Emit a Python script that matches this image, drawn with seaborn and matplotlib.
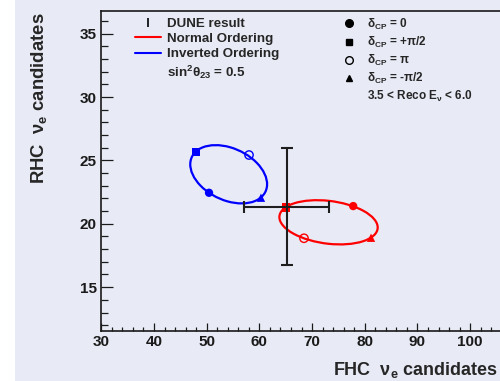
import matplotlib
matplotlib.use("Agg")
import matplotlib.pyplot as plt
from matplotlib.patches import Ellipse, Rectangle
from matplotlib.lines import Line2D
from matplotlib.container import ErrorbarContainer
from matplotlib.legend_handler import HandlerErrorbar
from matplotlib.ticker import MultipleLocator
import pandas as pd
import seaborn as sns

# Predicted FHC / RHC nu_e candidate counts at the four reference delta_CP values
orderings = ["Normal Ordering", "Inverted Ordering"]
ordering_colors = ["#ff0000", "#0000ff"]
dcp_labels = ["0", "+π/2", "π", "-π/2"]
fhc_normal = [77.8, 65.05, 68.46, 81.18]
rhc_normal = [21.40, 21.30, 18.86, 18.90]
fhc_inverted = [50.44, 47.91, 58.03, 60.30]
rhc_inverted = [22.45, 25.69, 25.43, 22.06]

# delta_CP loci in FHC/RHC space: centre, full width, full height, tilt (deg)
ellipse_center_fhc = [73.12, 54.17]
ellipse_center_rhc = [20.12, 23.91]
ellipse_width = [18.67, 14.67]
ellipse_height = [3.39, 4.30]
ellipse_angle = [-2.6, -6.7]

# Measured result with statistical uncertainties
dune_fhc = [65.15]
dune_rhc = [21.36]
dune_fhc_err = [8.07]
dune_rhc_err = [4.60]

x_ticks = [30, 40, 50, 60, 70, 80, 90, 100]
y_ticks = [15, 20, 25, 30, 35]

BG = "#e8ebf6"
FONT = "Liberation Sans"

sns.set_style("ticks")
plt.rcParams["font.family"] = [FONT, "DejaVu Sans"]
plt.rcParams["font.weight"] = "bold"
plt.rcParams["mathtext.fontset"] = "custom"
plt.rcParams["mathtext.rm"] = FONT + ":bold"
plt.rcParams["mathtext.bf"] = FONT + ":bold"
plt.rcParams["mathtext.it"] = FONT + ":bold"
plt.rcParams["mathtext.default"] = "regular"

fig = plt.figure(figsize=(5.0, 3.81), dpi=100)
fig.patch.set_facecolor(BG)
fig.add_artist(Rectangle((0, 0), 15 / 500, 1, transform=fig.transFigure,
                         facecolor="white", edgecolor="none", zorder=-5))

ax = fig.add_axes([101.3 / 500, 50.5 / 381, 421.6 / 500, 319.8 / 381])
ax.set_facecolor("none")

points = pd.DataFrame({
    "fhc": fhc_normal + fhc_inverted,
    "rhc": rhc_normal + rhc_inverted,
    "ordering": [orderings[0]] * 4 + [orderings[1]] * 4,
    "dcp": dcp_labels * 2,
})
palette = dict(zip(orderings, ordering_colors))

# delta_CP ellipses
for cx, cy, w, h, ang, col in zip(ellipse_center_fhc, ellipse_center_rhc,
                                  ellipse_width, ellipse_height,
                                  ellipse_angle, ordering_colors):
    ax.add_patch(Ellipse((cx, cy), w, h, angle=ang, fill=False,
                         edgecolor=col, linewidth=1.6, zorder=2))

# filled markers
filled = points[points["dcp"] != "π"]
sns.scatterplot(data=filled, x="fhc", y="rhc", hue="ordering", palette=palette,
                style="dcp", markers={"0": "o", "+π/2": "s", "-π/2": "^"},
                s=36, linewidth=0, legend=False, ax=ax, zorder=4)
# open markers
for name, col in zip(orderings, ordering_colors):
    sub = points[(points["dcp"] == "π") & (points["ordering"] == name)]
    sns.scatterplot(data=sub, x="fhc", y="rhc", color=col, marker="o",
                    facecolor="none", edgecolor=col, linewidth=1.0, s=36,
                    legend=False, ax=ax, zorder=4)

# measured point
ax.errorbar(dune_fhc, dune_rhc, xerr=dune_fhc_err, yerr=dune_rhc_err,
            fmt="none", ecolor="#1e1e1e", elinewidth=1.5, capsize=4.3,
            capthick=1.5, zorder=5)

ax.set_xlim(30, 110)
ax.set_ylim(11.58, 36.82)
ax.set_xticks(x_ticks)
ax.set_yticks(y_ticks)
ax.xaxis.set_minor_locator(MultipleLocator(2))
ax.yaxis.set_minor_locator(MultipleLocator(1))
ax.tick_params(axis="both", which="both", direction="in", colors="#1a1a1a",
               width=0.9, labelsize=11, top=False, right=False)
ax.tick_params(axis="y", which="major", length=8.6, pad=3.3)
ax.tick_params(axis="y", which="minor", length=4.7)
ax.tick_params(axis="x", which="major", length=5.8, pad=3)
ax.tick_params(axis="x", which="minor", length=2.9)
for lab in ax.get_xticklabels() + ax.get_yticklabels():
    lab.set_fontweight("bold")
for side in ["left", "bottom", "top"]:
    ax.spines[side].set_color("#1a1a1a")
    ax.spines[side].set_linewidth(1.2)
ax.spines["right"].set_visible(False)

ax.set_xlabel(r"FHC  $\nu_{e}$ candidates", fontsize=13, fontweight="bold",
              ha="left", va="baseline")
ax.xaxis.set_label_coords((333 - 101.3) / 421.6, -(375 - 330.5) / 319.8)
ax.set_ylabel(r"RHC  $\nu_{e}$ candidates", fontsize=13.3, fontweight="bold",
              ha="right", va="bottom")
ax.yaxis.set_label_coords((49 - 101.3) / 421.6, (330.5 - 12) / 319.8)

# left legend: result and orderings
dune_key = ax.errorbar([], [], yerr=[], fmt="none", ecolor="black",
                       elinewidth=1.2, capsize=3, capthick=1.2)
left_handles = [dune_key,
                Line2D([], [], color=ordering_colors[0], lw=1.5),
                Line2D([], [], color=ordering_colors[1], lw=1.5),
                Line2D([], [], color="none")]
left_labels = ["DUNE result", orderings[0], orderings[1],
               r"sin$^{2}\theta_{23}$ = 0.5"]
fig.legend(left_handles, left_labels, loc="upper left",
           bbox_to_anchor=(135 / 500, 1 - 17.5 / 381),
           frameon=False, borderpad=0, borderaxespad=0,
           handlelength=1.95, handletextpad=0.43, labelspacing=0.22,
           prop={"family": FONT, "weight": "bold", "size": 9.6},
           handler_map={ErrorbarContainer: HandlerErrorbar(yerr_size=0.33)})

# right legend: delta_CP markers and energy window
right_handles = [
    Line2D([], [], marker="o", color="black", linestyle="none", markersize=5.5),
    Line2D([], [], marker="s", color="black", linestyle="none", markersize=5),
    Line2D([], [], marker="o", color="black", markerfacecolor="none",
           markeredgewidth=1.0, linestyle="none", markersize=5.5),
    Line2D([], [], marker="^", color="black", linestyle="none", markersize=5),
    Line2D([], [], color="none"),
]
right_labels = [r"$\delta_{CP}$ = " + d for d in dcp_labels] + \
               [r"3.5 < Reco $E_{\nu}$ < 6.0"]
fig.legend(right_handles, right_labels, loc="upper left",
           bbox_to_anchor=(337.5 / 500, 1 - 16.5 / 381),
           frameon=False, borderpad=0, borderaxespad=0,
           handlelength=2.0, handletextpad=0.47, labelspacing=0.26,
           prop={"family": FONT, "weight": "bold", "size": 8.5})

fig.savefig("out.png", dpi=100, facecolor=fig.get_facecolor())
